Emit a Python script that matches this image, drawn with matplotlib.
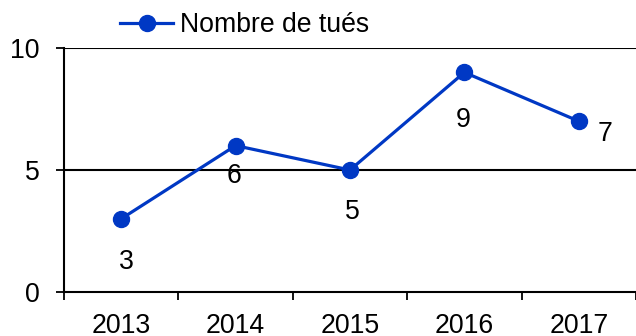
import matplotlib
matplotlib.use("Agg")
import matplotlib.pyplot as plt
from matplotlib.ticker import FixedLocator

plt.rcParams["font.family"] = ["Liberation Sans", "DejaVu Sans"]

years = ["2013", "2014", "2015", "2016", "2017"]
killed = [3, 6, 5, 9, 7]
series_name = "Nombre de tués"
y_ticks = [0, 5, 10]

# label offsets (points) relative to each marker
label_offsets = [(4, -31), (-1, -22), (2, -30), (-1, -34), (19, -9)]

color = "#0038C4"
fs = 19.2

fig = plt.figure(figsize=(6.36, 3.36), dpi=100)
ax = fig.add_axes([64 / 636, 1 - 292 / 336, 572 / 636, (292 - 48) / 336])

x = list(range(len(years)))
ax.plot(x, killed, color=color, lw=2.3, marker="o", ms=11.5,
        label=series_name, zorder=3, clip_on=False)

for xi, v, (dx, dy) in zip(x, killed, label_offsets):
    ax.annotate(str(v), (xi, v), xytext=(dx, dy), textcoords="offset points",
                ha="center", va="center", fontsize=fs, color="black")

ax.set_xlim(-0.5, len(years) - 0.5)
ax.set_ylim(0, 10)
ax.set_yticks(y_ticks)
ax.set_yticklabels([str(t) for t in y_ticks], fontsize=fs)
ax.set_xticks(x)
ax.set_xticklabels(years, fontsize=fs)
ax.xaxis.set_minor_locator(FixedLocator([i - 0.5 for i in range(len(years) + 1)]))
ax.tick_params(axis="x", which="major", length=0, pad=15)
ax.tick_params(axis="x", which="minor", length=5.5, width=1.3, color="black")
ax.tick_params(axis="y", length=5.5, width=1.3, pad=12, color="black")

for yv in y_ticks[1:]:
    ax.axhline(yv, color="black", lw=1.5, zorder=1)

for side in ["top", "right"]:
    ax.spines[side].set_visible(False)
for side in ["left", "bottom"]:
    ax.spines[side].set_linewidth(1.5)
    ax.spines[side].set_color("black")

fig.legend(loc="center left", bbox_to_anchor=(120 / 636, 1 - 25 / 336),
           frameon=False, fontsize=fs, borderpad=0, borderaxespad=0,
           handlelength=2.0, handletextpad=0.25)

fig.savefig("out.png", dpi=100)
